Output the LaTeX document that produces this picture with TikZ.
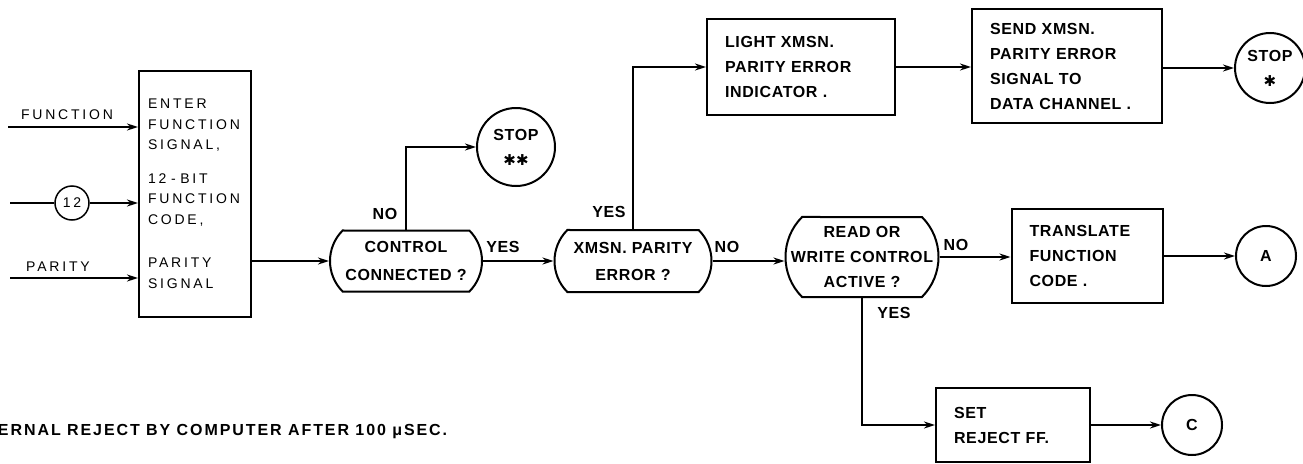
\documentclass[tikz,border=0pt]{standalone}
\usepackage{fontspec}
\setmainfont{Liberation Sans}
\newfontfamily\flowfam{Liberation Sans}[LetterSpace=4]
\newfontfamily\widefam{Liberation Sans}[LetterSpace=20]
\newfontfamily\notefam{Liberation Sans}[LetterSpace=12]
\newfontfamily\starfam{DejaVu Sans}
\usetikzlibrary{arrows.meta,positioning,shapes.misc}
\newcommand{\flowfont}{\flowfam\fontsize{16}{25}\selectfont\bfseries}
\newcommand{\handfont}{\widefam\fontsize{14}{20.5}\selectfont}
\newcommand{\stars}[1]{{\starfam\fontsize{15}{25}\selectfont #1}}

\begin{document}
\begin{tikzpicture}[x=1pt,y=-1pt,line width=2pt,
  box/.style={draw,align=left,font=\flowfont,inner xsep=18pt,inner ysep=0pt},
  ask/.style={draw,rounded rectangle,rounded rectangle arc length=90,inner sep=0pt},
  asktext/.style={font=\flowfont,align=center},
  endc/.style={draw,circle,inner sep=0pt,font=\flowfont,align=center},
  lbl/.style={font=\flowfont,inner sep=0pt},
  a/.style={-{Stealth[length=11pt,width=7pt]}}]
 \useasboundingbox (0,0) rectangle (1303,463);
 % inputs to the function box
 \coordinate (f0) at (8,127);
 \coordinate (c0) at (10,203);
 \coordinate (p0) at (10,278);
 \node[draw,circle,minimum size=34pt,inner sep=0pt,font=\handfont,line width=1.5pt] (n12) at (72,203) {12};
 \node[draw,text width=94pt,minimum height=246pt,inner xsep=9pt,align=left,font=\handfont] (enter) at (195,194)
   {ENTER\\FUNCTION\\SIGNAL,\\[13pt]12 - BIT\\FUNCTION\\CODE,\\[23pt]PARITY\\SIGNAL};
 \node[inner sep=0pt,font=\handfont] (fl) at (67,115) {FUNCTION};
 \node[inner sep=0pt,font=\handfont] (pl) at (58,267) {PARITY};
 \draw[a] (f0) -- (f0 -| enter.west);
 \draw (c0) -- (n12);
 \draw[a] (n12) -- (n12 -| enter.west);
 \draw[a] (p0) -- (p0 -| enter.west);
 % decisions
 \node[ask,minimum width=152pt,minimum height=61pt,
   label={[asktext]center:{CONTROL\\[3pt]CONNECTED ?}}] (ctrl) at (406,261) {};
 \node[ask,minimum width=157pt,minimum height=62pt,
   label={[asktext]center:{XMSN. PARITY\\[2pt]ERROR ?}}] (xmsn) at (633,261) {};
 \node[ask,minimum width=153pt,minimum height=80pt,
   label={[asktext]center:{READ OR\\WRITE CONTROL\\ACTIVE ?}}] (read) at (862,257) {};
 % boxes
 \node[box,text width=152pt,minimum height=96pt] (light) at (801,67) {LIGHT XMSN.\\PARITY ERROR\\INDICATOR .};
 \node[box,text width=154pt,minimum height=114pt] (send) at (1067,66) {SEND XMSN.\\PARITY ERROR\\SIGNAL TO\\DATA CHANNEL .};
 \node[box,text width=115pt,minimum height=94pt] (trans) at (1087,256) {TRANSLATE\\FUNCTION\\CODE .};
 \node[box,text width=118pt,minimum height=74pt] (rej) at (1013,425) {SET\\REJECT FF.};
 % terminals
 \node[endc,minimum size=78pt] (stopb) at (516,147) {STOP\\\stars{✱✱}};
 \node[endc,minimum size=70pt] (stopa) at (1270,68) {STOP\\\stars{✱}};
 \node[endc,minimum size=60pt] (conA) at (1266,256) {A};
 \node[endc,minimum size=60pt] (conC) at (1192,425) {C};
 % branch labels
 \node[lbl] (no1) at (385,214) {NO};
 \node[lbl] (yes1) at (503,247) {YES};
 \node[lbl] (yes2) at (609,212) {YES};
 \node[lbl] (no2) at (727,247) {NO};
 \node[lbl] (no3) at (956,245) {NO};
 \node[lbl] (yes3) at (894,313) {YES};
 % flow
 \draw[a] (enter.east |- ctrl.west) -- (ctrl.west);
 \draw[a] (ctrl.north) |- (stopb.west);
 \draw[a] (ctrl.east) -- (xmsn.west);
 \draw[a] (xmsn.north) |- (light.west);
 \draw[a] (xmsn.east) -- (xmsn.east -| read.west);
 \draw[a] (read.east) -- (read.east -| trans.west);
 \draw[a] (read.south) |- (rej.west);
 \draw[a] (light.east) -- (light.east -| send.west);
 \draw[a] (send.east |- stopa.west) -- (stopa.west);
 \draw[a] (trans.east) -- (conA.west);
 \draw[a] (rej.east) -- (conC.west);
 \node[anchor=west,inner sep=0pt,font=\notefam\fontsize{16}{18}\selectfont\bfseries] (note) at (-3,432)
   {ERNAL REJECT BY COMPUTER AFTER 100 μSEC.};
\end{tikzpicture}
\end{document}
